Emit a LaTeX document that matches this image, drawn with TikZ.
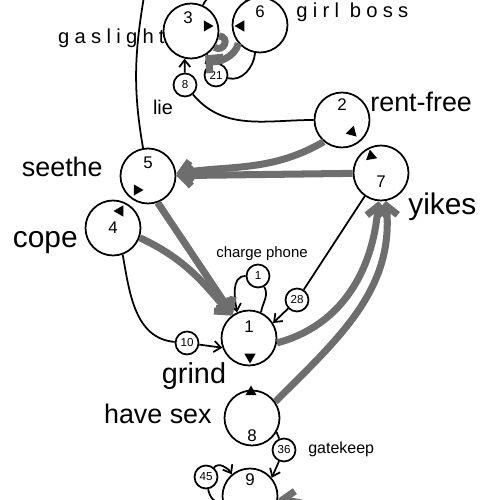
\documentclass[tikz,border=0pt]{standalone}
\usepackage{fontspec}
\setmainfont{Liberation Sans}
\newfontfamily\spacedfont[LetterSpace=26]{Liberation Sans}
\usetikzlibrary{arrows.meta}
\usetikzlibrary{shapes.geometric}
\definecolor{flowgray}{RGB}{110,110,110}
\newcommand{\fsz}[1]{\fontsize{#1}{#1}\selectfont}

\begin{document}
\begin{tikzpicture}[
    x=0.02cm, y=0.02cm,
    state/.style={circle, draw, line width=1pt, fill=white, minimum size=1.1cm, inner sep=0pt},
    hop/.style={circle, draw, line width=1pt, fill=white, minimum size=0.46cm, inner sep=0pt, font=\fsz{6.6pt}},
    pointer/.style={regular polygon, regular polygon sides=3, fill=black, inner sep=0pt, minimum size=0.26cm},
    tag/.style={inner sep=0pt},
    every label/.style={font=\fsz{9.6pt}, inner sep=0pt},
    link/.style={line width=1pt},
    flow/.style={line width=4pt, draw=flowgray, -{Straight Barb[length=0.2cm,width=0.42cm]}},
    >={Straight Barb[length=0.14cm,width=0.22cm]}
]
    \useasboundingbox (0,0) rectangle (500,500);
    \clip (0,0) rectangle (500,500);

    % states
    \node[state, label={[yshift=0.26cm, xshift=-0.06cm]center:3}] (s3) at (191,469) {};
    \node[state, label={[yshift=0.26cm]center:6}] (s6) at (260,475) {};
    \node[state, label={[yshift=0.3cm]center:2}] (s2) at (342,380) {};
    \node[state, label={[yshift=-0.18cm]center:7}] (s7) at (381,327) {};
    \node[state, label={[yshift=0.26cm]center:5}] (s5) at (148,324) {};
    \node[state, label={center:4}] (s4) at (113,272) {};
    \node[state, label={[yshift=0.22cm]center:1}] (s1) at (249,162) {};
    \node[state, label={[yshift=-0.36cm]center:8}] (s8) at (252,82) {};
    \node[state, label={[yshift=0.32cm]center:9}] (s9) at (250,4) {};

    \node[pointer, rotate=-90] (t3) at (207,474) {};
    \node[pointer, rotate=90] (t6) at (241,474) {};
    \node[pointer, rotate=105] (t2) at (352,368) {};
    \node[pointer, rotate=-110] (t7) at (371,344) {};
    \node[pointer, rotate=-90] (t5) at (137,310) {};
    \node[pointer, rotate=90] (t4) at (120,289) {};
    \node[pointer, rotate=180] (t1) at (250,143) {};
    \node[pointer] (t8) at (251,108) {};

    % edge counts
    \node[hop] (e8) at (185,415) {8};
    \node[hop] (e21) at (216,425) {21};
    \node[hop] (e1) at (258,224) {1};
    \node[hop] (e28) at (297,200) {28};
    \node[hop] (e10) at (187,157) {10};
    \node[hop] (e36) at (284,50) {36};
    \node[hop] (e45) at (206,23) {45};

    % names
    \node[tag, font=\spacedfont\fsz{11.5pt}, anchor=east] (gaslight) at (165,462) {gaslight};
    \node[tag, font=\spacedfont\fsz{11.5pt}, anchor=west] (girlboss) at (296,488) {girl boss};
    \node[tag, font=\fsz{15.3pt}, anchor=west] (rentfree) at (370,398) {rent-free};
    \node[tag, font=\fsz{17pt}, anchor=west] (yikes) at (408,293.5) {yikes};
    \node[tag, font=\fsz{15.3pt}, anchor=east] (seethe) at (103,333) {seethe};
    \node[tag, font=\fsz{17pt}, anchor=east] (cope) at (78,257) {cope};
    \node[tag, font=\fsz{16.4pt}] (grind) at (194,124) {grind};
    \node[tag, font=\fsz{15.3pt}, anchor=east] (havesex) at (212,86) {have sex};
    \node[tag, font=\fsz{9.1pt}, anchor=west] (gatekeep) at (308,50.5) {gatekeep};
    \node[tag, font=\fsz{11.3pt}] (lie) at (163,392.5) {lie};
    \node[tag, font=\fsz{8.5pt}] (chargephone) at (262,246.5) {charge phone};

    % thin transitions
    \draw[link] (s2.west) to[out=180, in=-50] (e8);
    \draw[link, ->] (e8) -- (s3.257);
    \draw[link] (s6.260) to[out=-95, in=-15] (e21);
    \draw[link, ->] (e21) -- (s3.-55);
    \draw[link] (s7.235) -- (e28);
    \draw[link, ->] (e28) -- (s1.32);
    \draw[link] (s4.-70) to[out=-80, in=175] (e10);
    \draw[link, ->] (e10) -- (s1.200);
    \draw[link] (s1.65) to[out=80, in=-60] (e1);
    \draw[link, ->] (e1) to[out=180, in=100] (s1.115);
    \draw[link] (s8.-30) -- (e36);
    \draw[link, ->] (e36) -- (s9.40);
    \draw[link, ->] (e45) to[out=50, in=120] (s9.130);
    \draw[link] (s9.195) to[out=185, in=-80] (e45);
    \coordinate (up5) at (146,515);
    \draw[link] (s5.100) to[out=100, in=-100] (up5);
    \draw[link] (s3.65) to[out=70, in=110] (s6.120);

    % thick transitions
    \draw[flow] (s7) -- (s5);
    \draw[flow] (s2.230) to[out=210, in=8] (s5.5);
    \draw[flow] (s5.-70) -- (s1.125);
    \draw[flow] (s4.-20) to[out=-25, in=130] (s1.128);
    \draw[flow] (s1.-10) to[out=15, in=-95] (s7.-95);
    \draw[flow] (s8.35) to[out=45, in=-85] (s7.-80);
    \draw[flow] (s6.220) to[out=-100, in=-40] (s3.-60);
    \draw[flow, -] (s3.-10) to[out=-5, in=-30, looseness=2.4] (s3.-35);
    \coordinate (in9) at (360,-15);
    \draw[flow] (in9) -- (s9.-5);
\end{tikzpicture}
\end{document}
